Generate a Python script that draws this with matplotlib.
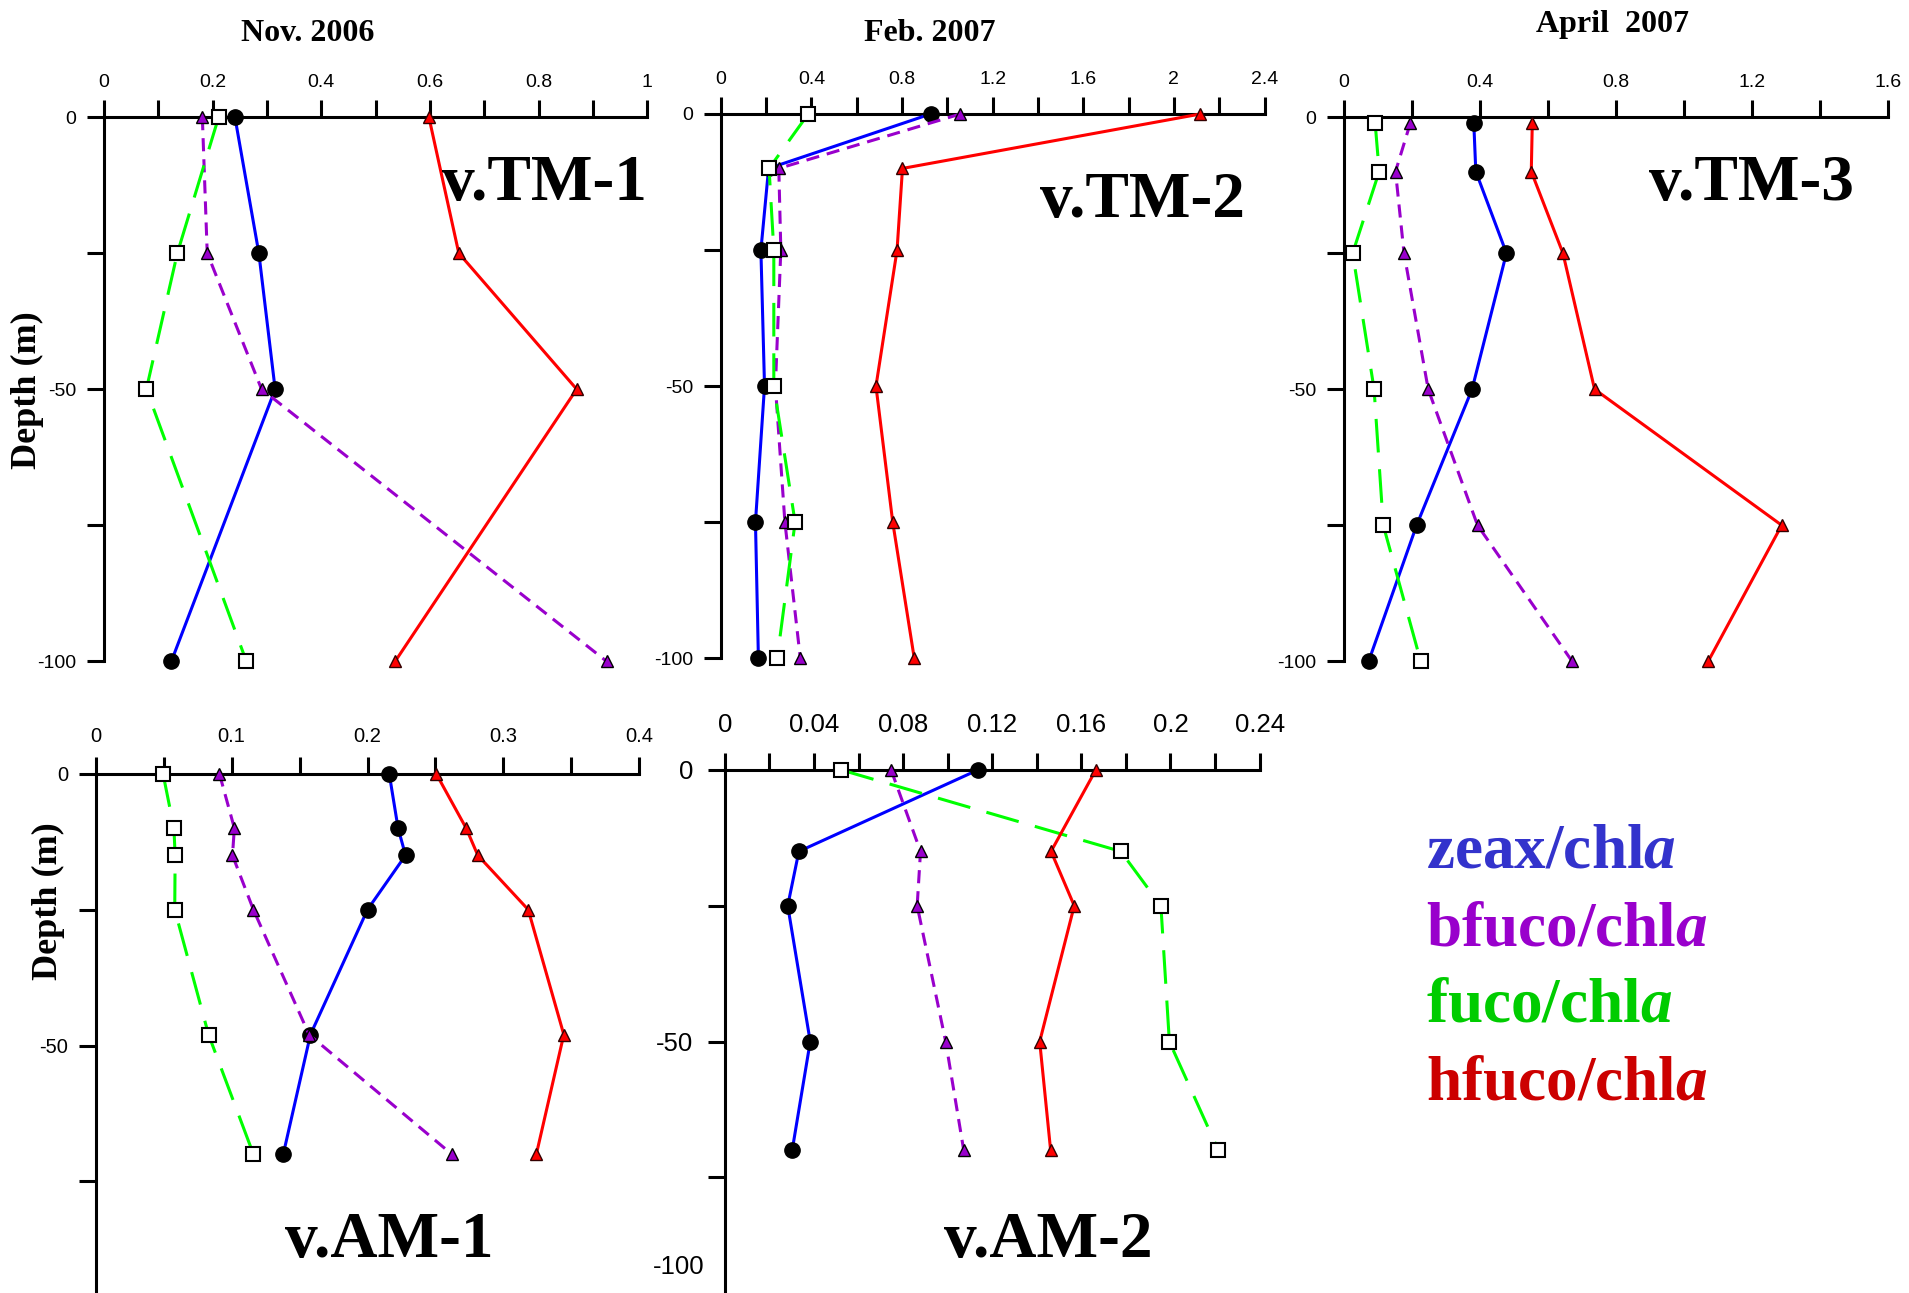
import matplotlib
matplotlib.use('Agg')
import matplotlib.pyplot as plt
from matplotlib.ticker import MultipleLocator, FixedLocator, FuncFormatter

plt.rcParams['font.family'] = 'Liberation Sans'
plt.rcParams['axes.unicode_minus'] = False
plt.rcParams['mathtext.fontset'] = 'custom'
plt.rcParams['mathtext.rm'] = 'Liberation Serif:bold'
plt.rcParams['mathtext.it'] = 'Liberation Serif:italic:bold'

W, H = 1909, 1293

# ---- data (pigment ratio vs depth) ----
tm1_depth = [0, -25, -50, -100]
tm1_zeax = [0.241, 0.285, 0.315, 0.124]
tm1_bfuco = [0.181, 0.190, 0.290, 0.925]
tm1_fuco = [0.211, 0.135, 0.078, 0.262]
tm1_hfuco = [0.598, 0.653, 0.870, 0.536]

tm2_depth = [0, -10, -25, -50, -75, -100]
tm2_zeax = [0.926, 0.211, 0.177, 0.193, 0.153, 0.166]
tm2_bfuco = [1.058, 0.256, 0.265, 0.241, 0.283, 0.351]
tm2_fuco = [0.386, 0.213, 0.234, 0.234, 0.328, 0.249]
tm2_hfuco = [2.117, 0.802, 0.778, 0.685, 0.759, 0.854]

tm3_depth = [-1, -10, -25, -50, -75, -100]
tm3_zeax = [0.382, 0.388, 0.478, 0.377, 0.214, 0.073]
tm3_bfuco = [0.196, 0.152, 0.177, 0.248, 0.393, 0.671]
tm3_fuco = [0.092, 0.104, 0.026, 0.089, 0.116, 0.226]
tm3_hfuco = [0.554, 0.551, 0.644, 0.737, 1.287, 1.071]

am1_depth = [0, -10, -15, -25, -48, -70]
am1_zeax = [0.216, 0.2225, 0.228, 0.200, 0.158, 0.138]
am1_bfuco = [0.091, 0.102, 0.1006, 0.116, 0.157, 0.262]
am1_fuco = [0.0495, 0.0575, 0.0584, 0.0581, 0.083, 0.116]
am1_hfuco = [0.2506, 0.2726, 0.2812, 0.3183, 0.3445, 0.3243]

am2_depth = [0, -15, -25, -50, -70]
am2_zeax = [0.1136, 0.0332, 0.0282, 0.0383, 0.0302]
am2_bfuco = [0.0746, 0.0878, 0.0863, 0.0991, 0.1072]
am2_fuco = [0.0522, 0.1777, 0.1957, 0.1995, 0.2215]
am2_hfuco = [0.1665, 0.1464, 0.1568, 0.1413, 0.1462]

series_names = ['zeax/chl$\\mathit{a}$', 'bfuco/chl$\\mathit{a}$',
                'fuco/chl$\\mathit{a}$', 'hfuco/chl$\\mathit{a}$']
legend_colors = ['#3333cc', '#9900cc', '#00cc00', '#cc0000']

# line / marker styles per pigment
styles = [
    dict(color='#0000ff', ls='-', marker='o', ms=11, mfc='black', mec='black', mew=1),
    dict(color='#9900cc', ls=(0, (4.3, 2.6)), marker='^', ms=8, mfc='#9900cc', mec='black', mew=1),
    dict(color='#00ff00', ls=(0, (11, 5.5)), marker='s', ms=10, mfc='white', mec='black', mew=1.5),
    dict(color='#ff0000', ls='-', marker='^', ms=8, mfc='#ff0000', mec='#330000', mew=1),
]

# panel layout in pixels: x0, x_end, y_top(0 m), y_bottom(-100 m)
panels = [
    dict(box=(104, 647.3, 117.1, 661.3), xmax=1.0, major=0.2, minor=0.1, lsize=14, xpad=7, ypad=8,
         yticks=[0, -50, -100], depth=tm1_depth, data=[tm1_zeax, tm1_bfuco, tm1_fuco, tm1_hfuco],
         name='v.TM-1', name_xy=(647, 200), title='Nov. 2006', title_xy=(308, 41)),
    dict(box=(720.8, 1264.5, 114, 658.3), xmax=2.4, major=0.4, minor=0.2, lsize=14, xpad=7, ypad=8,
         yticks=[0, -50, -100], depth=tm2_depth, data=[tm2_zeax, tm2_bfuco, tm2_fuco, tm2_hfuco],
         name='v.TM-2', name_xy=(1245, 217), title='Feb. 2007', title_xy=(930, 41)),
    dict(box=(1343.8, 1888.2, 117.1, 661.3), xmax=1.6, major=0.4, minor=0.2, lsize=14, xpad=7, ypad=8,
         yticks=[0, -50, -100], depth=tm3_depth, data=[tm3_zeax, tm3_bfuco, tm3_fuco, tm3_hfuco],
         name='v.TM-3', name_xy=(1854, 200), title='April  2007', title_xy=(1613, 32)),
    dict(box=(95.8, 639.2, 773.8, 1317.2), xmax=0.4, major=0.1, minor=0.05, lsize=14.5, xpad=8, ypad=8,
         yticks=[0, -50], depth=am1_depth, data=[am1_zeax, am1_bfuco, am1_fuco, am1_hfuco],
         name='v.AM-1', name_xy=(494, 1257), title=None, title_xy=None),
    dict(box=(724.9, 1259.6, 769.9, 1313.3), xmax=0.24, major=0.04, minor=0.02, lsize=18.5, xpad=12, ypad=11,
         yticks=[0, -50], depth=am2_depth, data=[am2_zeax, am2_bfuco, am2_fuco, am2_hfuco],
         name='v.AM-2', name_xy=(1152, 1257), title=None, title_xy=None),
]

fig = plt.figure(figsize=(W / 100, H / 100), dpi=100)

fmt = FuncFormatter(lambda v, p: '%g' % round(v, 4))

for p in panels:
    x0, x1, yt, yb = p['box']
    ax = fig.add_axes([x0 / W, 1 - yb / H, (x1 - x0) / W, (yb - yt) / H])
    for vals, st in zip(p['data'], styles):
        ax.plot(vals, p['depth'], lw=2.2, clip_on=False, zorder=3, **st)
    ax.set_xlim(0, p['xmax'])
    ax.set_ylim(-100, 0)
    ax.patch.set_alpha(0)

    for s in ['bottom', 'right']:
        ax.spines[s].set_visible(False)
    for s in ['top', 'left']:
        ax.spines[s].set_linewidth(2.2)

    ax.xaxis.set_ticks_position('top')
    ax.xaxis.set_major_locator(MultipleLocator(p['major']))
    ax.xaxis.set_minor_locator(MultipleLocator(p['minor']))
    ax.xaxis.set_major_formatter(fmt)
    minor_y = [v for v in [-25, -75, -100] if v not in p['yticks']]
    ax.yaxis.set_major_locator(FixedLocator(p['yticks']))
    ax.yaxis.set_minor_locator(FixedLocator(minor_y))
    ax.yaxis.set_major_formatter(fmt)

    ax.tick_params(axis='both', which='both', direction='out', length=12, width=2.2)
    ax.tick_params(axis='x', which='major', labelsize=p['lsize'], pad=p['xpad'])
    ax.tick_params(axis='y', which='major', labelsize=p['lsize'], pad=p['ypad'])

    fig.text(p['name_xy'][0] / W, 1 - p['name_xy'][1] / H, p['name'],
             family='Liberation Serif', weight='bold', size=47, ha='right', va='baseline')
    if p['title']:
        fig.text(p['title_xy'][0] / W, 1 - p['title_xy'][1] / H, p['title'],
                 family='Liberation Serif', weight='bold', size=23, ha='center', va='baseline')

# depth labels
fig.text(27 / W, 1 - 390 / H, 'Depth (m)', family='Liberation Serif', weight='bold',
         size=26, rotation=90, ha='center', va='center')
fig.text(48 / W, 1 - 901 / H, 'Depth (m)', family='Liberation Serif', weight='bold',
         size=26, rotation=90, ha='center', va='center')

# the -100 label of the v.AM-2 depth axis sits just inside the bottom edge
fig.text(705 / W, 1 - 1267 / H, '-100', size=18.5, ha='right', va='center')

# legend text
legend_baselines = [867, 945, 1022, 1100]
for name, col, yb in zip(series_names, legend_colors, legend_baselines):
    fig.text(1426 / W, 1 - yb / H, name, family='Liberation Serif', weight='bold',
             size=45.5, color=col, ha='left', va='baseline')

fig.savefig('out.png', dpi=100)
